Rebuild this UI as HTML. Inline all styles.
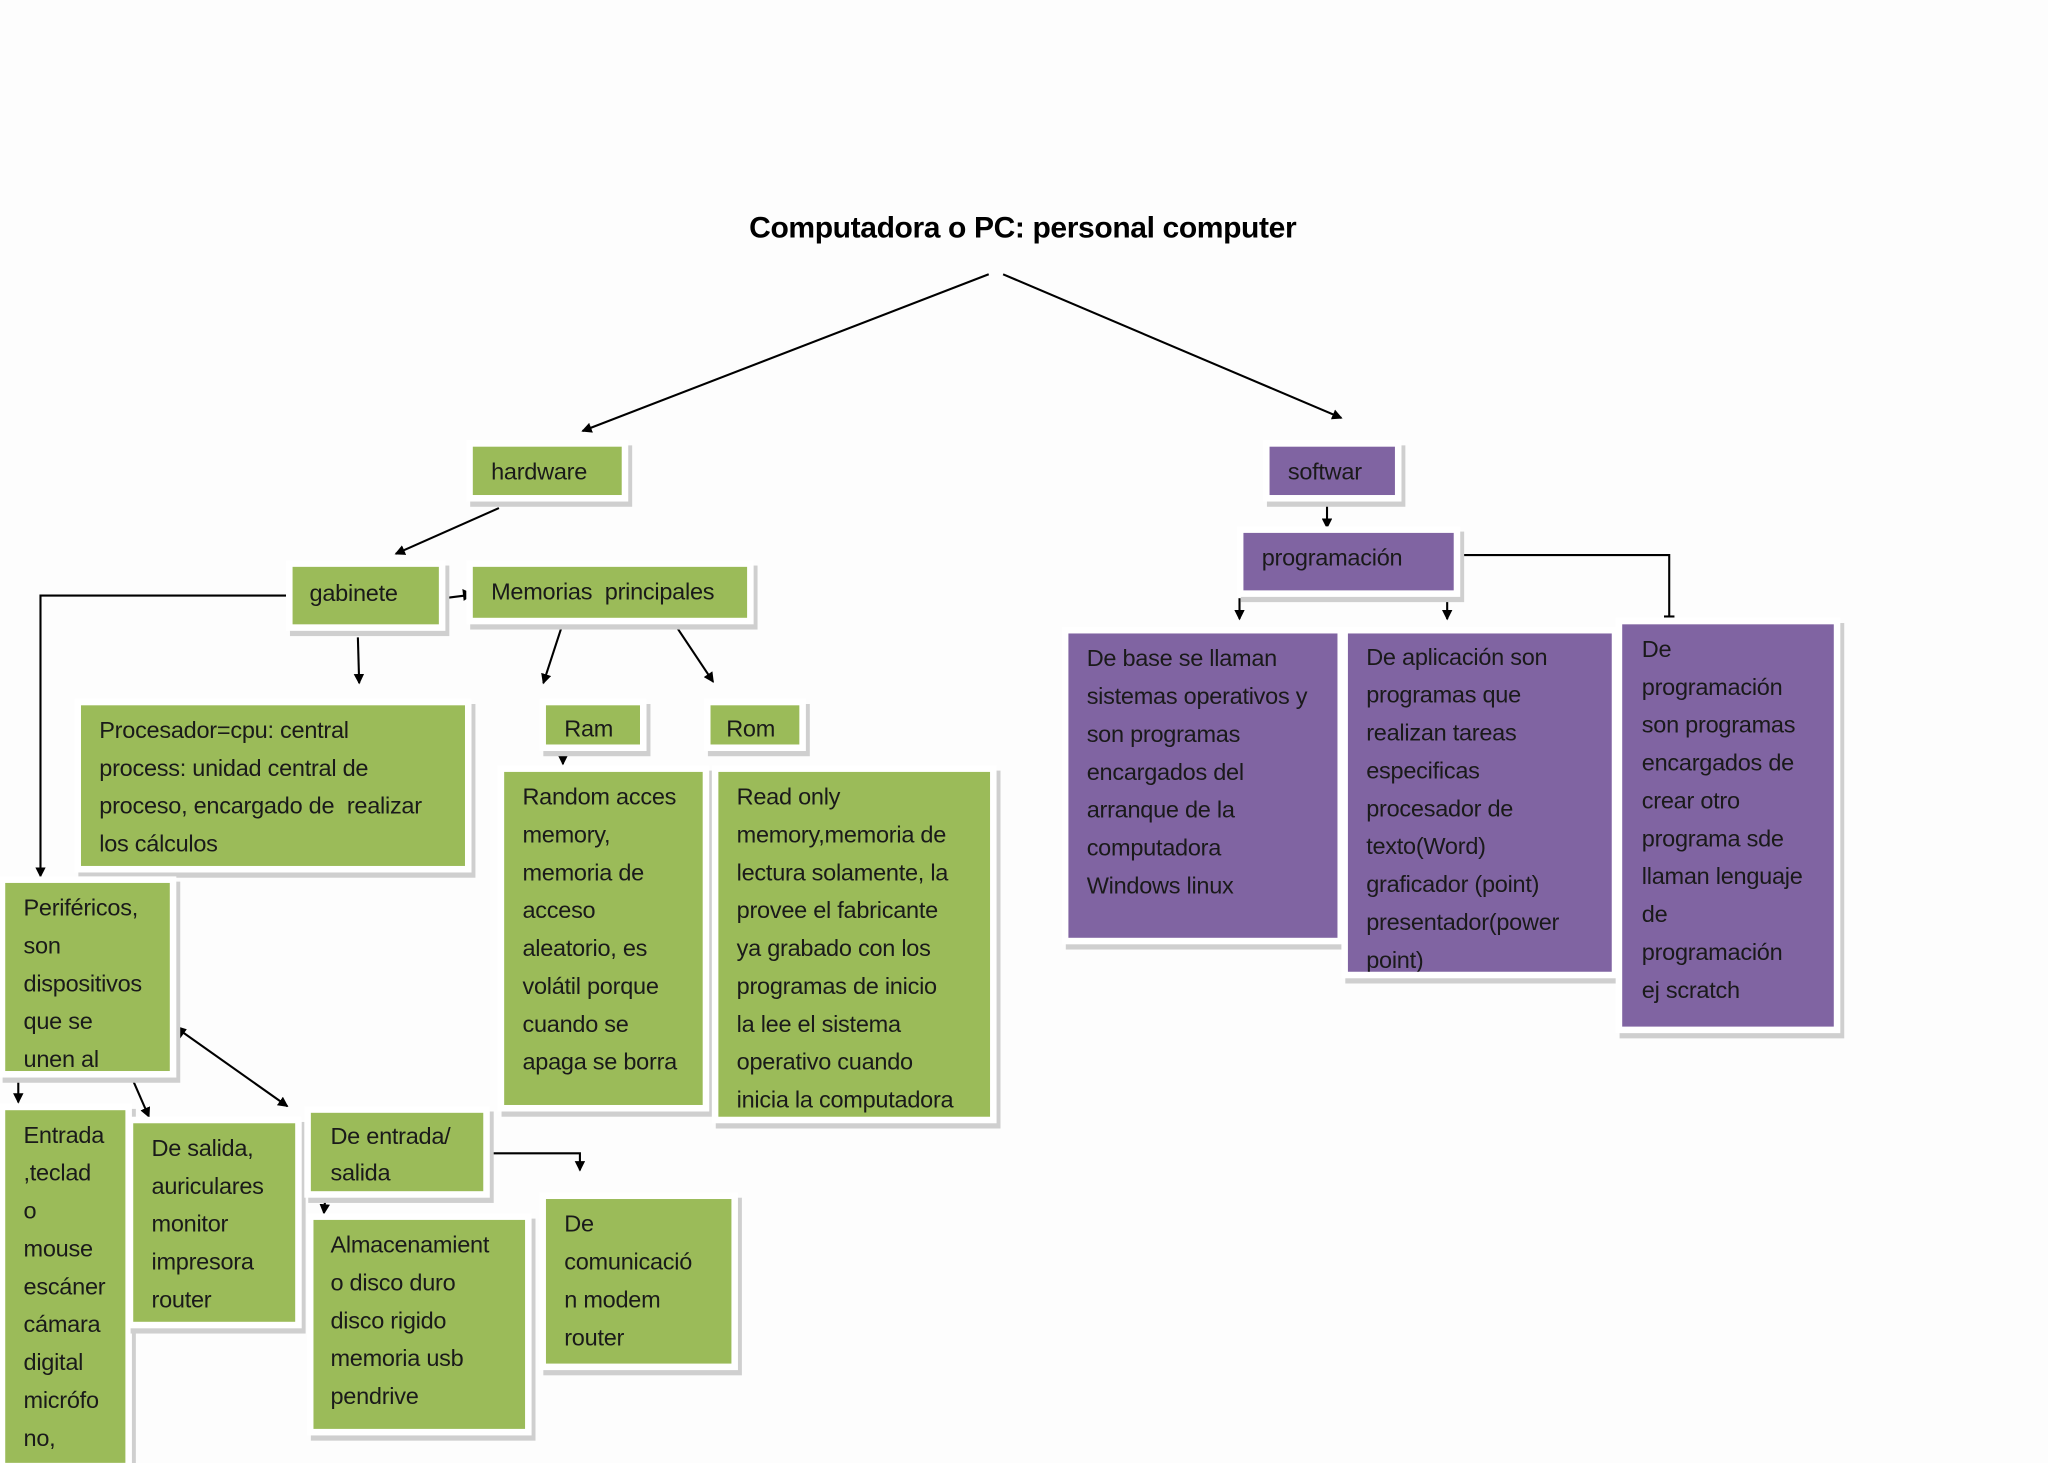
<!DOCTYPE html>
<html><head><meta charset="utf-8"><style>
html,body{margin:0;padding:0;background:#fdfdfd;}
body{width:2048px;height:1448px;overflow:hidden;position:relative;}
#w{position:absolute;left:0;top:0;width:1568px;height:1109px;transform:scale(1.30612);transform-origin:0 0;}
.b{position:absolute;box-sizing:border-box;font-family:"Liberation Sans",sans-serif;font-size:18px;letter-spacing:-0.2px;color:#1a1a1a;line-height:29px;overflow:hidden;padding:4px 14px;white-space:nowrap;box-shadow:0 0 0 5px #fff,3px 4px 0 5px #cfcfcf;}
.g{background:#9bbb59;}
.p{background:#8064a2;}
.t{position:absolute;left:0;width:1568px;top:161px;text-align:center;font-family:"Liberation Sans",sans-serif;font-weight:bold;font-size:23px;letter-spacing:-0.3px;}
svg{position:absolute;left:0;top:0;}
</style></head><body><div id="w">
<div class="t" style="left:-1px">Computadora o PC: personal computer</div>
<svg width="1568" height="1109">
<defs><marker id="a" markerWidth="8" markerHeight="8" refX="7" refY="4" orient="auto" markerUnits="userSpaceOnUse"><path d="M0,0 L8,4 L0,8z" fill="#000"/></marker></defs>
<g stroke="#000" stroke-width="1.6" fill="none">
<line x1="757" y1="210" x2="446" y2="330" marker-end="url(#a)"/>
<line x1="768" y1="210" x2="1027" y2="320" marker-end="url(#a)"/>
<line x1="382" y1="389" x2="303" y2="424" marker-end="url(#a)"/>
<line x1="340" y1="458" x2="356" y2="456"/>
<polyline points="219,456 31,456 31,671" marker-end="url(#a)"/>
<line x1="274" y1="488" x2="275" y2="523" marker-end="url(#a)"/>
<line x1="430" y1="480" x2="416" y2="523" marker-end="url(#a)"/>
<line x1="518" y1="480" x2="546" y2="522" marker-end="url(#a)"/>
<line x1="431" y1="573" x2="431" y2="585" marker-end="url(#a)"/>
<line x1="14" y1="823" x2="14" y2="844" marker-end="url(#a)"/>
<line x1="100" y1="823" x2="114" y2="855" marker-end="url(#a)"/>
<line x1="138" y1="789" x2="220" y2="847" marker-end="url(#a)"/>
<polyline points="373,883 444,883 444,896" marker-end="url(#a)"/>
<line x1="249" y1="918" x2="248" y2="929" marker-end="url(#a)"/>
<line x1="1016" y1="387" x2="1016" y2="404" marker-end="url(#a)"/>
<line x1="949" y1="458" x2="949" y2="474" marker-end="url(#a)"/>
<line x1="1108" y1="458" x2="1108" y2="474" marker-end="url(#a)"/>
<polyline points="1117,425 1278,425 1278,472"/>
<line x1="1274" y1="472" x2="1282" y2="472"/>
</g>
<polygon points="363,455 354,451 355,460" fill="#000"/>
<polygon points="133,785 143,788 138,795" fill="#000"/>
</svg>
<div class="b g" style="left:362px;top:342px;width:114px;height:37px;padding:5px 14px">hardware</div>
<div class="b p" style="left:972px;top:342px;width:96px;height:37px;padding:5px 14px">softwar</div>
<div class="b p" style="left:952px;top:408px;width:161px;height:44px;padding:5px 14px">programación</div>
<div class="b g" style="left:224px;top:434px;width:112px;height:44px;padding:6px 13px">gabinete</div>
<div class="b g" style="left:362px;top:434px;width:210px;height:39px;padding:5px 14px">Memorias&nbsp; principales</div>
<div class="b g" style="left:62px;top:540px;width:294px;height:123px;padding:5px 14px">Procesador=cpu: central<br>process: unidad central de<br>proceso, encargado de&nbsp; realizar<br>los cálculos</div>
<div class="b g" style="left:418px;top:540px;width:72px;height:30px;padding:4px 14px">Ram</div>
<div class="b g" style="left:544px;top:540px;width:68px;height:30px;padding:4px 12px">Rom</div>
<div class="b g" style="left:386px;top:591px;width:152px;height:255px;padding:5px 14px">Random acces<br>memory,<br>memoria de<br>acceso<br>aleatorio, es<br>volátil porque<br>cuando se<br>apaga se borra</div>
<div class="b g" style="left:550px;top:591px;width:208px;height:264px;padding:5px 14px">Read only<br>memory,memoria de<br>lectura solamente, la<br>provee el fabricante<br>ya grabado con los<br>programas de inicio<br>la lee el sistema<br>operativo cuando<br>inicia la computadora</div>
<div class="b g" style="left:4px;top:676px;width:126px;height:144px;padding:5px 14px">Periféricos,<br>son<br>dispositivos<br>que se<br>unen al</div>
<div class="b g" style="left:4px;top:850px;width:92px;height:270px;padding:5px 14px">Entrada<br>,teclad<br>o<br>mouse<br>escáner<br>cámara<br>digital<br>micrófo<br>no,</div>
<div class="b g" style="left:102px;top:860px;width:124px;height:152px;padding:5px 14px">De salida,<br>auriculares<br>monitor<br>impresora<br>router</div>
<div class="b g" style="left:238px;top:852px;width:132px;height:60px;padding:4px 15px;line-height:28px">De entrada/<br>salida</div>
<div class="b g" style="left:240px;top:934px;width:162px;height:160px;padding:5px 13px">Almacenamient<br>o disco duro<br>disco rigido<br>memoria usb<br>pendrive</div>
<div class="b g" style="left:418px;top:918px;width:142px;height:126px;padding:5px 14px">De<br>comunicació<br>n modem<br>router</div>
<div class="b p" style="left:818px;top:485px;width:206px;height:233px;padding:5px 14px">De base se llaman<br>sistemas operativos y<br>son programas<br>encargados del<br>arranque de la<br>computadora<br>Windows linux</div>
<div class="b p" style="left:1032px;top:485px;width:202px;height:259px;padding:4px 14px">De aplicación son<br>programas que<br>realizan tareas<br>especificas<br>procesador de<br>texto(Word)<br>graficador (point)<br>presentador(power<br>point)</div>
<div class="b p" style="left:1242px;top:478px;width:162px;height:308px;padding:5px 15px">De<br>programación<br>son programas<br>encargados de<br>crear otro<br>programa sde<br>llaman lenguaje<br>de<br>programación<br>ej scratch</div>
</div></body></html>
